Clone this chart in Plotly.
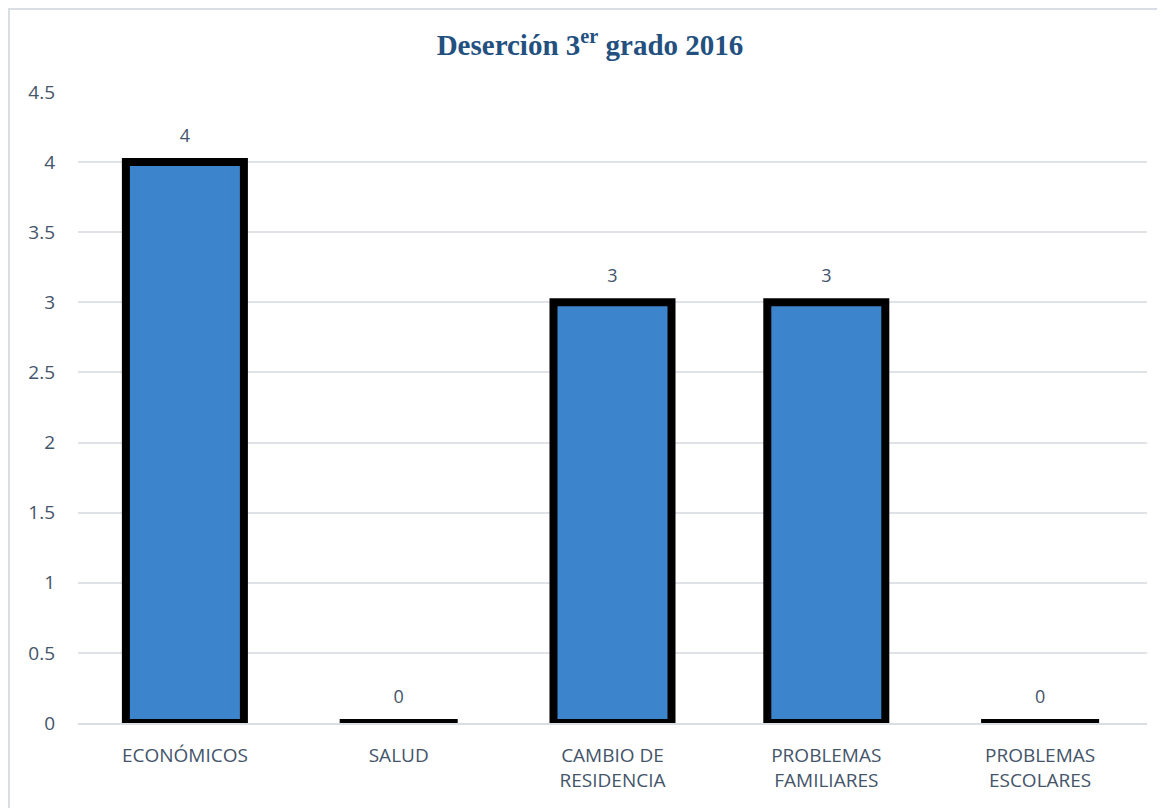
import plotly.graph_objects as go

categories = ["ECONÓMICOS", "SALUD", "CAMBIO DE<br>RESIDENCIA", "PROBLEMAS<br>FAMILIARES", "PROBLEMAS<br>ESCOLARES"]
values = [4, 0, 3, 3, 0]
y_ticks = [0, 0.5, 1, 1.5, 2, 2.5, 3, 3.5, 4, 4.5]
y_tick_labels = ["0", "0.5", "1", "1.5", "2", "2.5", "3", "3.5", "4", "4.5"]

# page body has an 8px margin, so the figure starts at (8, 8)
W, H = 1157, 800
L, R, T, B = 70, 18, 84, 85
pw, ph = W - L - R, H - T - B

fig = go.Figure()
fig.add_trace(go.Bar(
    x=categories, y=values,
    width=0.552,
    marker=dict(color="#3C85CC", line=dict(color="#000000", width=8)),
    hoverinfo="x+y",
))
# data labels above each bar
fig.add_trace(go.Scatter(
    x=categories, y=values, mode="markers+text",
    text=[str(v) for v in values], textposition="top center",
    marker=dict(size=24, opacity=0),
    textfont=dict(family="Open Sans", size=18, color="#44546A"),
    cliponaxis=False, hoverinfo="skip",
))

# outer chart border (top and left)
fig.add_shape(type="line", xref="paper", yref="paper",
              x0=-L / pw, x1=(W - L) / pw, y0=(H - B - 1) / ph, y1=(H - B - 1) / ph,
              line=dict(color="#D9DEE4", width=2))
fig.add_shape(type="line", xref="paper", yref="paper",
              x0=(1 - L) / pw, x1=(1 - L) / pw, y0=(H - B) / ph, y1=-B / ph,
              line=dict(color="#D9DEE4", width=2))

fig.update_layout(
    width=W, height=H,
    margin=dict(l=L, r=R, t=T, b=B),
    paper_bgcolor="white", plot_bgcolor="white",
    title=dict(text="<b>Deserción 3<sup>er</sup> grado 2016</b>",
               x=(590 - 8) / W, xref="container", xanchor="center",
               y=1 - 37 / H, yanchor="middle",
               font=dict(family="Liberation Serif", size=29, color="#23507F")),
    showlegend=False,
)
fig.update_xaxes(
    tickfont=dict(family="Open Sans", size=19, color="#44546A"),
    showline=True, linecolor="#D9DEE4", linewidth=2,
    ticks="", showgrid=False, ticklabelstandoff=14,
)
fig.update_yaxes(
    range=[0, 4.5], tickvals=y_ticks, ticktext=y_tick_labels,
    tickfont=dict(family="Open Sans", size=19, color="#44546A"),
    showgrid=True, gridcolor="#DFE3E8", gridwidth=2,
    zeroline=False, ticks="", ticklabelstandoff=22,
)
fig.write_html("out.html")
